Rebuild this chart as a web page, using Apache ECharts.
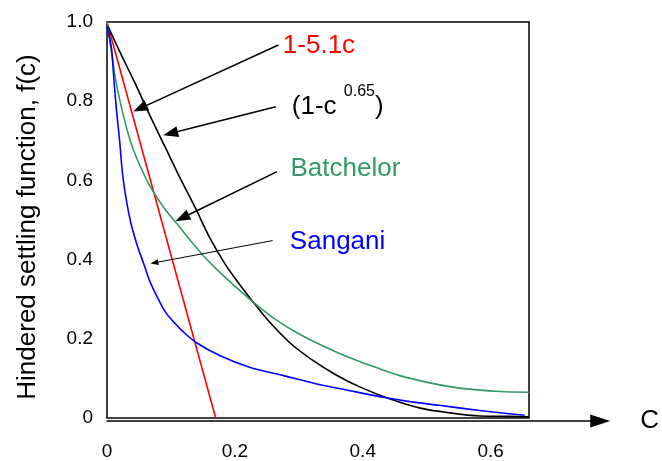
<!DOCTYPE html>
<html>
<head>
<meta charset="utf-8">
<script src="https://cdn.jsdelivr.net/npm/echarts@6/dist/echarts.min.js"></script>
<style>html,body{margin:0;padding:0;background:#fff}#chart{width:662px;height:461px}</style>
</head>
<body>
<div id="chart"></div>
<script>
// ---------------- data ----------------
const xTickValues = [0, 0.2, 0.4, 0.6];
const yTickValues = [0, 0.2, 0.4, 0.6, 0.8, 1.0];

// 1-5.1c (red)
const cRed = [0, 0.17];
const fRed = [1.0, 0];

// (1-c^0.65) (black)
const cBlack = [0, 0.020, 0.044, 0.067, 0.091, 0.114, 0.138, 0.161, 0.185, 0.208, 0.232, 0.255, 0.286, 0.318, 0.357, 0.396, 0.443, 0.490, 0.536, 0.583, 0.630, 0.660];
const fBlack = [0.995, 0.925, 0.845, 0.764, 0.684, 0.607, 0.531, 0.454, 0.388, 0.336, 0.286, 0.241, 0.190, 0.150, 0.110, 0.078, 0.048, 0.025, 0.013, 0.005, 0.004, 0.003];

// Batchelor (green)
const cGreen = [0, 0.006, 0.014, 0.024, 0.036, 0.047, 0.067, 0.089, 0.110, 0.130, 0.150, 0.177, 0.219, 0.260, 0.302, 0.354, 0.396, 0.427, 0.458, 0.501, 0.541, 0.579, 0.615, 0.660];
const fGreen = [1.0, 0.934, 0.850, 0.775, 0.702, 0.654, 0.586, 0.531, 0.489, 0.449, 0.411, 0.367, 0.306, 0.253, 0.211, 0.170, 0.142, 0.124, 0.107, 0.090, 0.078, 0.071, 0.067, 0.065];

// Sangani (blue)
const cBlue = [0, 0.007, 0.011, 0.015, 0.020, 0.024, 0.029, 0.037, 0.047, 0.058, 0.067, 0.080, 0.092, 0.105, 0.119, 0.140, 0.177, 0.223, 0.276, 0.328, 0.380, 0.437, 0.479, 0.520, 0.562, 0.604, 0.653];
const fBlue = [0.99, 0.934, 0.850, 0.775, 0.696, 0.621, 0.562, 0.495, 0.437, 0.387, 0.345, 0.301, 0.266, 0.241, 0.218, 0.190, 0.157, 0.128, 0.107, 0.086, 0.069, 0.051, 0.040, 0.032, 0.023, 0.015, 0.007];

// annotations (data units)
const noteText = ['1-5.1c', '(1-c {sup|0.65})', 'Batchelor', 'Sangani'];
const noteAt = [[0.275, 0.940], [0.289, 0.787], [0.287, 0.629], [0.286, 0.446]];
const arrowFrom = [[0.268, 0.942], [0.264, 0.786], [0.266, 0.622], [0.259, 0.448]];
const arrowTo = [[0.041, 0.774], [0.088, 0.714], [0.107, 0.497], [0.068, 0.390]];
const arrowKind = ['big', 'big', 'big', 'small'];

// ---------------- styles ----------------
const FONT = '"Liberation Sans", Arial, Helvetica, sans-serif';
const COLORS = {red: '#ff0000', black: '#000000', green: '#339966', blue: '#0000ff'};
const noteColor = [COLORS.red, COLORS.black, COLORS.green, COLORS.blue];
const arrowStyle = {big: {head: 15, width: 11, lw: 1.5}, small: {head: 8, width: 6, lw: 1}};

const zip = (a, b) => a.map((v, i) => [v, b[i]]);

function lineSeries(name, c, f, color) {
  return {
    name, type: 'line', xAxisIndex: 0, yAxisIndex: 0,
    data: zip(c, f), showSymbol: false, symbol: 'none', smooth: 0.3,
    lineStyle: {color, width: 1.6}, silent: true, z: 3
  };
}

const chart = echarts.init(document.getElementById('chart'), null, {renderer: 'canvas'});
chart.setOption({
  animation: false,
  backgroundColor: '#ffffff',
  textStyle: {fontFamily: FONT},
  grid: [
    {left: 107, top: 22, right: 133, bottom: 40, show: true, borderColor: '#000', borderWidth: 1.5, backgroundColor: 'transparent'},
    {left: 107, top: 22, right: 48, bottom: 40, show: false}
  ],
  xAxis: [
    {
      type: 'value', gridIndex: 0, min: 0, max: 0.66,
      axisLine: {show: false}, axisTick: {show: false}, splitLine: {show: false},
      axisLabel: {
        customValues: xTickValues, color: '#000', fontSize: 19, fontFamily: FONT, margin: 24,
        formatter: v => (v === 0 ? '0' : v.toFixed(1))
      }
    },
    {
      type: 'value', gridIndex: 1, min: 0, max: 1,
      axisLine: {show: true, symbol: ['none', 'triangle'], symbolSize: [13, 20], lineStyle: {color: '#000', width: 1.5}},
      axisTick: {show: false}, axisLabel: {show: false}, splitLine: {show: false},
      name: 'C', nameLocation: 'end', nameGap: 40,
      nameTextStyle: {color: '#000', fontSize: 26, fontFamily: FONT, verticalAlign: 'middle', align: 'left'}
    }
  ],
  yAxis: [
    {
      type: 'value', gridIndex: 0, min: 0, max: 1, interval: 0.2,
      axisLine: {show: false}, axisTick: {show: false}, splitLine: {show: false},
      axisLabel: {
        color: '#000', fontSize: 19, fontFamily: FONT, margin: 14,
        formatter: v => (v === 0 ? '0' : v.toFixed(1))
      },
      name: 'Hindered settling function, f(c)', nameLocation: 'middle', nameGap: 66,
      nameTextStyle: {color: '#000', fontSize: 26, fontFamily: FONT, padding: [0, 14, 0, 0]}
    },
    {type: 'value', gridIndex: 1, min: 0, max: 1, show: false}
  ],
  series: [
    lineSeries('1-5.1c', cRed, fRed, COLORS.red),
    lineSeries('(1-c^0.65)', cBlack, fBlack, COLORS.black),
    lineSeries('Batchelor', cGreen, fGreen, COLORS.green),
    lineSeries('Sangani', cBlue, fBlue, COLORS.blue),
    {
      name: 'arrows', type: 'custom', xAxisIndex: 0, yAxisIndex: 0, silent: true, z: 5,
      dimensions: ['c1', 'f1', 'c2', 'f2'],
      encode: {x: [0, 2], y: [1, 3]},
      data: arrowFrom.map((p, i) => [p[0], p[1], arrowTo[i][0], arrowTo[i][1]]),
      renderItem: (params, api) => {
        const st = arrowStyle[arrowKind[params.dataIndex]];
        const a = api.coord([api.value(0), api.value(1)]);
        const b = api.coord([api.value(2), api.value(3)]);
        const dx = b[0] - a[0], dy = b[1] - a[1];
        const len = Math.sqrt(dx * dx + dy * dy);
        const ux = dx / len, uy = dy / len;
        const bx = b[0] - ux * st.head, by = b[1] - uy * st.head;
        const px = -uy * st.width / 2, py = ux * st.width / 2;
        return {
          type: 'group',
          children: [
            {type: 'line', shape: {x1: a[0], y1: a[1], x2: bx + ux * 2, y2: by + uy * 2}, style: {stroke: '#000', lineWidth: st.lw}},
            {type: 'polygon', shape: {points: [[b[0], b[1]], [bx + px, by + py], [bx - px, by - py]]}, style: {fill: '#000'}}
          ]
        };
      }
    },
    {
      name: 'notes', type: 'custom', xAxisIndex: 0, yAxisIndex: 0, silent: true, z: 6,
      dimensions: ['c', 'f'],
      encode: {x: 0, y: 1},
      data: noteAt,
      renderItem: (params, api) => {
        const i = params.dataIndex;
        const p = api.coord([api.value(0), api.value(1)]);
        const style = {
          text: noteText[i], fill: noteColor[i], fontSize: 26, fontFamily: FONT,
          align: 'left', verticalAlign: 'middle',
          rich: {sup: {fontSize: 16, lineHeight: 16, verticalAlign: 'top', fill: noteColor[i], fontFamily: FONT}}
        };
        if (i === 1) style.lineHeight = 46;
        return {type: 'text', x: p[0], y: p[1], style};
      }
    }
  ]
});
</script>
</body>
</html>
